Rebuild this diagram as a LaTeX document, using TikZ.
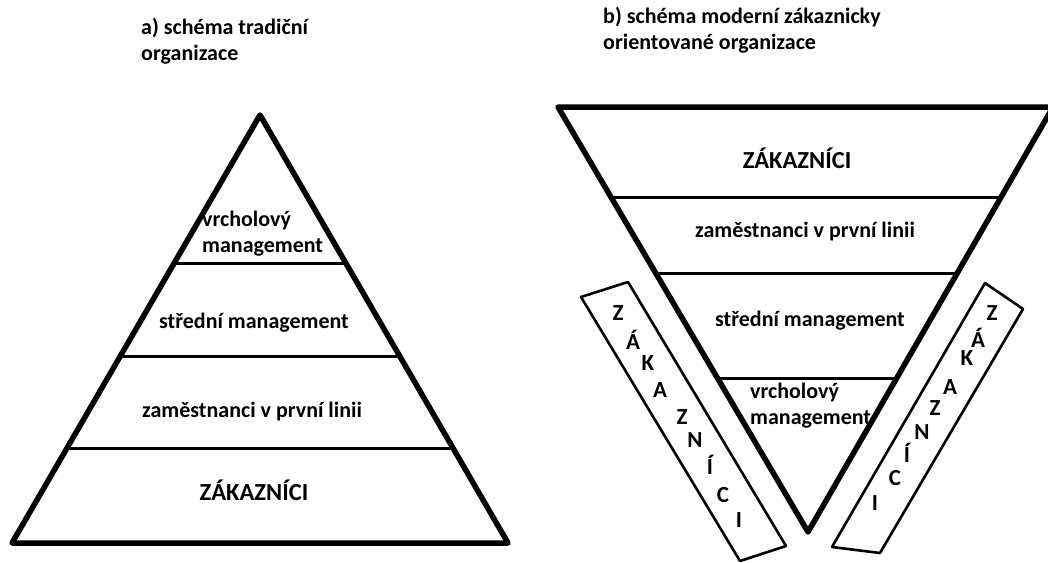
\documentclass[tikz,border=0pt]{standalone}
\usepackage{fontspec}
\setmainfont{Carlito}
\usetikzlibrary{calc}

\begin{document}
\begin{tikzpicture}[x=1pt, y=-1pt,
    frame/.style={line width=5.5pt, line join=round},
    level/.style={line width=3pt},
    band/.style={line width=2.6pt, line join=round},
    lbl/.style={font=\fontsize{22}{26}\selectfont\bfseries, inner sep=0pt},
    big/.style={font=\fontsize{24.5}{28}\selectfont\bfseries, inner sep=0pt},
    letter/.style={font=\fontsize{23}{26}\selectfont\bfseries, inner sep=0pt}]

  \useasboundingbox (0,0) rectangle (1048,562);

  % a) traditional pyramid
  \node[lbl, align=left, anchor=west] (titA) at (141,41) {a) schéma tradiční\\organizace};
  \coordinate (A1) at (260,115);
  \coordinate (A2) at (12,543);
  \coordinate (A3) at (508,543);
  \draw[frame] (A1) -- (A2) -- (A3) -- cycle;
  \draw[level] ($(A1)!0.346!(A2)$) -- ($(A1)!0.346!(A3)$);
  \draw[level] ($(A1)!0.565!(A2)$) -- ($(A1)!0.565!(A3)$);
  \draw[level] ($(A1)!0.780!(A2)$) -- ($(A1)!0.780!(A3)$);

  \node[lbl, align=left, anchor=west] (topA) at (202,234) {vrcholový\\management};
  \node[lbl] (midA) at (254,323) {střední management};
  \node[lbl] (lineA) at (252,412) {zaměstnanci v první linii};
  \node[big] (custA) at (254,490) {ZÁKAZNÍCI};

  % b) inverted pyramid
  \node[lbl, align=left, anchor=west] (titB) at (603,30) {b) schéma moderní zákaznicky\\orientované organizace};
  \coordinate (B1) at (558,107);
  \coordinate (B2) at (1053,107);
  \coordinate (B3) at (808,532);
  \draw[frame] (B1) -- (B2) -- (B3) -- cycle;
  \draw[level] ($(B1)!0.212!(B3)$) -- ($(B2)!0.212!(B3)$);
  \draw[level] ($(B1)!0.391!(B3)$) -- ($(B2)!0.391!(B3)$);
  \draw[level] ($(B1)!0.638!(B3)$) -- ($(B2)!0.638!(B3)$);

  \node[big] (custB) at (797,158) {ZÁKAZNÍCI};
  \node[lbl] (lineB) at (805,232) {zaměstnanci v první linii};
  \node[lbl] (midB) at (810,321) {střední management};
  \node[lbl, align=left, anchor=west] (topB) at (750,406) {vrcholový\\management};

  % customer bands
  \draw[band] (581,297) -- (628,282) -- (786,546) -- (740,561) -- cycle;
  \draw[band] (985,283) -- (1023,309) -- (880,553) -- (832,547) -- cycle;

  \foreach \ch/\px/\py [count=\i] in {Z/618/313, Á/633/340, K/648/363, A/660/390,
      Z/682/417, N/695/440, Í/710/465, C/723/495, I/739/520}
    \node[letter] (cl\i) at (\px,\py) {\ch};
  \foreach \ch/\px/\py [count=\i] in {Z/992/313, Á/978/338, K/967/358, A/950/387,
      Z/935/408, N/922/432, Í/907/453, C/895/478, I/875/503}
    \node[letter] (cr\i) at (\px,\py) {\ch};
\end{tikzpicture}
\end{document}
